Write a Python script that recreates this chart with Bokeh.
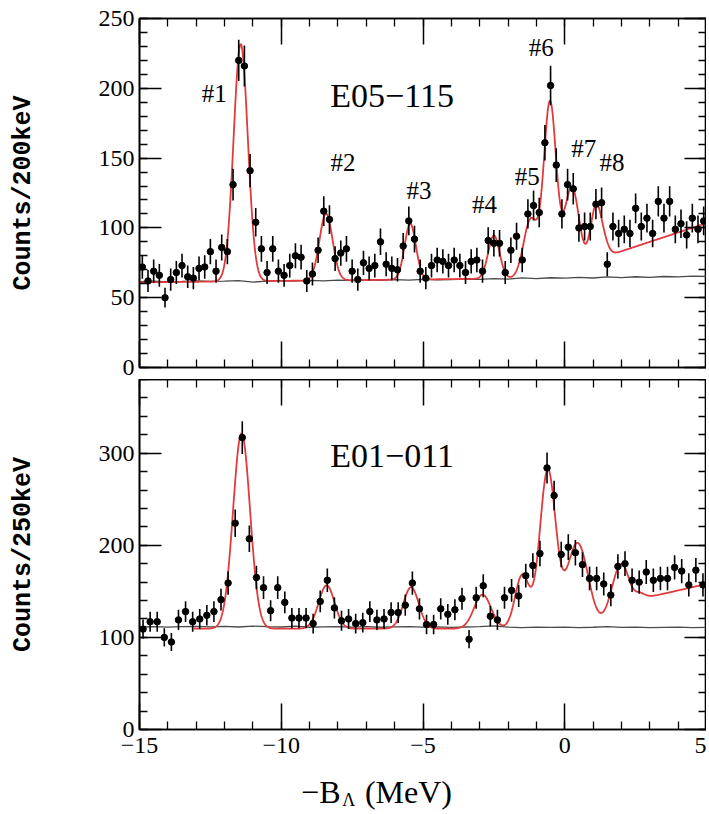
import math
import numpy as np
from bokeh.plotting import figure
from bokeh.models import ColumnDataSource, FixedTicker, LinearAxis, Label, Range1d
from bokeh.layouts import column
from bokeh.embed import file_html
from bokeh.resources import INLINE
from bokeh.core.properties import value

# ---------------- data ----------------
X_START, X_END = -15.0, 5.0
top_bin_width = 0.2     # 200 keV bins (E05-115)
bot_bin_width = 0.25    # 250 keV bins (E01-011)

top_counts = [72, 62, 69, 66, 50, 63, 68, 73, 65, 64,
              71, 72, 83, 69, 86, 83, 131, 220, 216, 141,
              104, 85, 68, 85, 69, 66, 73, 80, 79, 62,
              67, 84, 112, 106, 78, 82, 85, 69, 63, 75,
              71, 73, 90, 74, 71, 70, 87, 105, 92, 69,
              64, 73, 77, 76, 73, 77, 73, 68, 76, 77,
              69, 91, 89, 89, 68, 84, 94, 77, 110, 116,
              111, 161, 202, 145, 110, 131, 128, 100, 101, 101,
              117, 118, 74, 101, 96, 99, 96, 114, 101, 107,
              96, 119, 107, 119, 99, 103, 95, 107, 99, 105]

bot_counts = [109, 117, 117, 100, 95, 119, 128, 117, 120, 124,
              128, 141, 159, 224, 317, 207, 165, 154, 129, 154,
              138, 121, 121, 121, 115, 139, 162, 132, 118, 120,
              115, 116, 128, 119, 120, 127, 127, 135, 159, 131,
              114, 114, 131, 125, 130, 142, 98, 143, 156, 123,
              119, 143, 151, 145, 167, 178, 191, 284, 254, 190,
              198, 192, 179, 164, 164, 158, 146, 177, 180, 162,
              160, 171, 162, 164, 164, 176, 172, 157, 173, 157]

# accidental background (grey line), read every 0.5 MeV from -15 to 5
bg_step = 0.5
top_bg = [61.5, 61.8, 61.4, 61.6, 62.0, 61.7, 61.9, 62.3, 61.2, 61.9,
          62.2, 62.0, 62.4, 62.1, 62.6, 62.3, 62.8, 62.5, 62.9, 62.6,
          63.1, 62.8, 63.0, 63.4, 63.1, 63.6, 63.3, 64.2, 63.6, 64.3,
          64.0, 64.6, 64.1, 64.9, 64.4, 65.0, 64.6, 65.2, 64.9, 65.4, 65.3]
bot_bg = [111.5, 111.8, 111.2, 111.6, 112.0, 111.5, 111.9, 111.3, 112.2, 111.6,
          111.3, 112.3, 111.0, 111.4, 111.7, 111.2, 111.6, 111.0, 111.4, 111.8,
          111.1, 111.5, 110.8, 111.3, 111.6, 112.4, 111.2, 110.7, 111.1, 110.9,
          111.2, 110.6, 111.0, 111.6, 110.8, 111.1, 110.5, 110.9, 111.2, 110.6, 110.8]

# fitted peaks (red curve): centres [MeV], amplitudes [counts], widths (sigma) [MeV]
top_peak_center = [-11.43, -8.42, -5.45, -2.5, -1.2, -0.52, 0.25, 1.12]
top_peak_amp = [170, 48, 40, 31, 42, 125, 65, 52]
top_peak_sigma = [0.25, 0.23, 0.20, 0.20, 0.25, 0.22, 0.27, 0.22]
top_fit_base = [61.0, 65.2]          # fit baseline at x=-15 and x=5
top_cont = [1.35, 14.5, 6.5, 0.12]   # continuum: onset, level, slope, onset width
top_fit_start = -15.0

bot_peak_center = [-11.4, -8.4, -5.42, -2.9, -1.5, -0.6, 0.45, 2.0]
bot_peak_amp = [212, 47, 45, 37, 58, 171, 93, 70]
bot_peak_sigma = [0.30, 0.28, 0.27, 0.30, 0.25, 0.28, 0.38, 0.35]
bot_fit_base = [109.5, 109.5]
bot_cont = [2.5, 31, 7, 0.15]
bot_fit_start = -13.1

# annotations
peak_label_text = ["#1", "#2", "#3", "#4", "#5", "#6", "#7", "#8"]
peak_label_x = [-12.36, -7.82, -5.14, -2.83, -1.32, -0.83, 0.67, 1.67]
peak_label_y = [196, 147, 127, 116.5, 137, 229, 157, 147]

x_title_parts = ["\u2212B", "\u039b", "(MeV)"]
x_title_x = [-9.3, -7.85, -7.05]
x_title_y = [22, 14, 22]
x_title_size = ["32px", "18px", "32px"]

x_ticks = [-15, -10, -5, 0, 5]
x_minor = list(range(-15, 6))
x_tick_labels = ["\u221215", "\u221210", "\u22125", "0", "5"]
top_y_ticks = [0, 50, 100, 150, 200, 250]
top_y_minor = list(range(0, 251, 10))
bot_y_ticks = [0, 100, 200, 300]
bot_y_minor = list(range(0, 381, 20))

SERIF = "Liberation Serif"
MONO = "Liberation Mono"
RED = "#e23a3c"
BORDER_LEFT = 139
FRAME_W = 567

_erf = np.vectorize(math.erf)


def fit_curve(x, base, centers, amps, sigmas, cont):
    y = np.interp(x, [X_START, X_END], base)
    for c, a, s in zip(centers, amps, sigmas):
        y = y + a * np.exp(-(x - c) ** 2 / (2 * s * s))
    xt, k0, k1, w = cont
    step = 0.5 * (1 + _erf((x - xt) / (math.sqrt(2) * w)))
    y = y + (k0 + k1 * np.clip(x - xt, 0, None)) * step
    return y


def style_axes(p, yt, ym, ylab, show_x_labels):
    p.xgrid.visible = False
    p.ygrid.visible = False
    p.outline_line_color = "black"
    p.outline_line_width = 1.6
    p.add_layout(LinearAxis(), "above")
    p.add_layout(LinearAxis(), "right")
    for ax in list(p.xaxis) + list(p.yaxis):
        ax.axis_line_width = 1.6
        ax.major_tick_out = 0
        ax.minor_tick_out = 0
        ax.minor_tick_in = 8
        ax.major_tick_line_width = 1.5
        ax.minor_tick_line_width = 1.3
        ax.major_tick_line_color = "black"
        ax.minor_tick_line_color = "black"
        ax.axis_line_color = "black"
        ax.major_label_text_font = SERIF
        ax.major_label_text_font_size = "24px"
        ax.major_label_text_color = "black"
    for ax in p.xaxis:
        ax.ticker = FixedTicker(ticks=x_ticks, minor_ticks=x_minor)
        ax.major_tick_in = 26
    for ax in p.yaxis:
        ax.ticker = FixedTicker(ticks=yt, minor_ticks=ym)
        ax.major_tick_in = 22
    hidden = [p.above[0], p.right[0]]
    if not show_x_labels:
        hidden.append(p.below[0])
    for ax in hidden:
        ax.major_label_text_font_size = "0px"
        ax.major_label_text_alpha = 0
        ax.major_label_standoff = 0
    left = p.left[0]
    left.major_label_standoff = 5
    left.major_label_overrides = {t: str(t) for t in yt}
    left.axis_label = ylab
    left.axis_label_text_font = MONO
    left.axis_label_text_font_style = "bold"
    left.axis_label_text_font_size = "25px"
    left.axis_label_text_color = "black"
    left.axis_label_standoff = 58
    if show_x_labels:
        b = p.below[0]
        b.major_label_standoff = 8
        b.major_label_overrides = dict(zip(x_ticks, x_tick_labels))


def panel(counts, width, bg, fit_base, pc, pa, ps, cont, fit_start, y_end,
          frame_h, border_top, border_bottom):
    p = figure(frame_width=FRAME_W, frame_height=frame_h,
               x_range=Range1d(X_START, X_END), y_range=Range1d(0, y_end),
               output_backend="svg", toolbar_location=None,
               min_border_left=BORDER_LEFT, min_border_right=0,
               min_border_top=border_top, min_border_bottom=border_bottom,
               background_fill_color="white", border_fill_color="white")
    n = len(counts)
    xc = X_START + width * (np.arange(n) + 0.5)
    cnt = np.array(counts, dtype=float)
    err = np.sqrt(cnt)
    src = ColumnDataSource(dict(x=xc, y=cnt, lo=cnt - err, hi=cnt + err))

    bgx = X_START + bg_step * np.arange(len(bg))
    p.line(bgx, bg, line_color="#4a4a4a", line_width=1.3)

    xf = np.linspace(fit_start, X_END, 900)
    yf = fit_curve(xf, fit_base, pc, pa, ps, cont)
    p.line(xf, yf, line_color=RED, line_width=1.8)

    p.segment(x0="x", y0="lo", x1="x", y1="hi", source=src,
              line_color="black", line_width=1.6)
    p.scatter(x="x", y="y", source=src, size=6.5, marker="circle",
              fill_color="black", line_color="black")
    return p


top = panel(top_counts, top_bin_width, top_bg, top_fit_base, top_peak_center,
            top_peak_amp, top_peak_sigma, top_cont, top_fit_start, 250,
            349, 18, 12)
style_axes(top, top_y_ticks, top_y_minor, "Counts/200keV", False)

bot = panel(bot_counts, bot_bin_width, bot_bg, bot_fit_base, bot_peak_center,
            bot_peak_amp, bot_peak_sigma, bot_cont, bot_fit_start, 380,
            350, 0, 40)
style_axes(bot, bot_y_ticks, bot_y_minor, "Counts/250keV", True)

# peak labels
lab_src = ColumnDataSource(dict(x=peak_label_x, y=peak_label_y, t=peak_label_text))
top.text(x="x", y="y", text="t", source=lab_src, text_font=value(SERIF),
         text_font_size="25px", text_align="center", text_baseline="middle",
         text_color="black")

top.add_layout(Label(x=-6.09, y=195, text="E05\u2212115", text_font=SERIF,
                     text_font_size="34px", text_align="center",
                     text_baseline="middle", text_color="black"))
bot.add_layout(Label(x=-6.09, y=298, text="E01\u2212011", text_font=SERIF,
                     text_font_size="34px", text_align="center",
                     text_baseline="middle", text_color="black"))

# x-axis title strip:  -B_Lambda (MeV)
ttl = figure(frame_width=FRAME_W, frame_height=44,
             x_range=Range1d(X_START, X_END), y_range=Range1d(0, 44),
             output_backend="svg", toolbar_location=None,
             min_border_left=BORDER_LEFT, min_border_right=0,
             min_border_top=0, min_border_bottom=0,
             background_fill_color="white", border_fill_color="white")
ttl.axis.visible = False
ttl.grid.visible = False
ttl.outline_line_color = None
ttl_src = ColumnDataSource(dict(x=x_title_x, y=x_title_y, t=x_title_parts,
                                s=x_title_size))
ttl.text(x="x", y="y", text="t", source=ttl_src, text_font=value(SERIF),
         text_font_size="s", text_align="left", text_baseline="middle",
         text_color="black")

layout = column(top, bot, ttl, spacing=0)
open("out.html", "w").write(file_html(layout, INLINE))
